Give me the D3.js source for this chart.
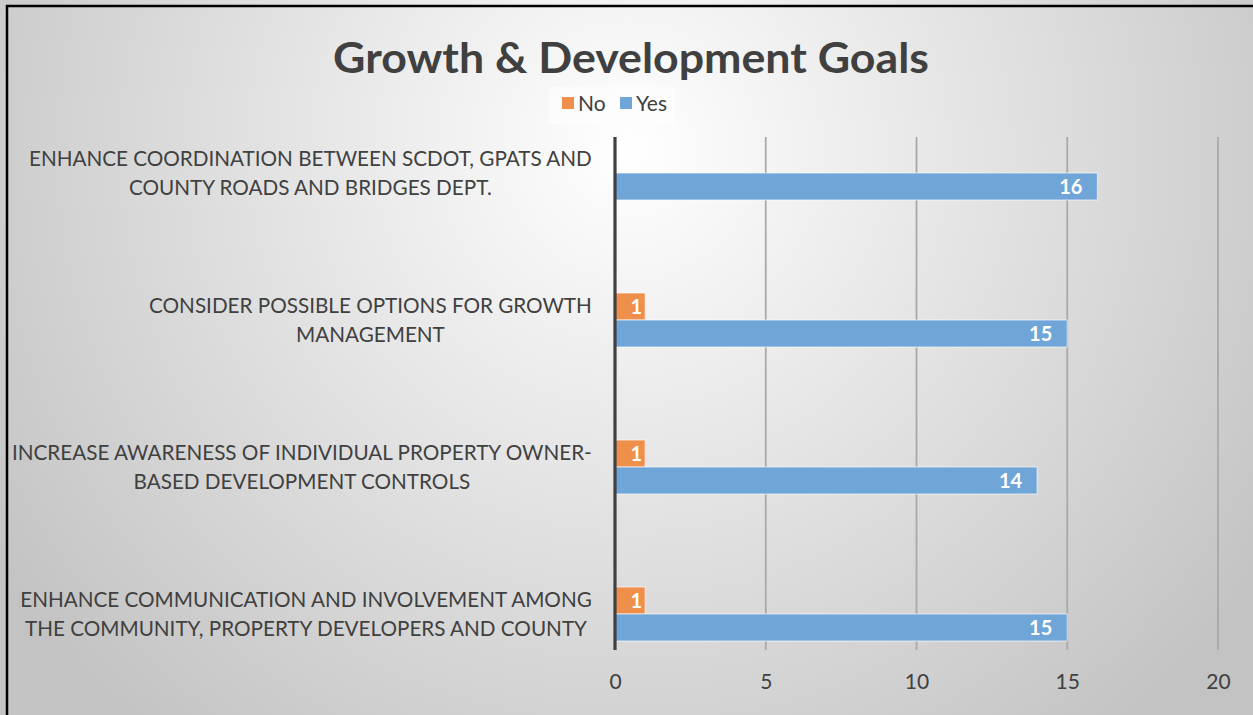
<!DOCTYPE html>
<html><head><meta charset="utf-8">
<script src="https://cdn.jsdelivr.net/npm/d3@7"></script>
<style>html,body{margin:0;padding:0;background:#fff;overflow:hidden}</style>
</head><body>
<svg id="chart" width="1253" height="715"></svg>
<script>
const title = "Growth & Development Goals";
const categories = [
  "ENHANCE COORDINATION BETWEEN SCDOT, GPATS AND|COUNTY ROADS AND BRIDGES DEPT.",
  "CONSIDER POSSIBLE OPTIONS FOR GROWTH|MANAGEMENT",
  "INCREASE AWARENESS OF INDIVIDUAL PROPERTY OWNER-|BASED DEVELOPMENT CONTROLS",
  "ENHANCE COMMUNICATION AND INVOLVEMENT AMONG|THE COMMUNITY, PROPERTY DEVELOPERS AND COUNTY"
];
const seriesNames = ["No", "Yes"];
const noValues = [0, 1, 1, 1];
const yesValues = [16, 15, 14, 15];
const xTicks = [0, 5, 10, 15, 20];
const colors = {No: "#ef8f4c", Yes: "#70a5d8"};

const svg = d3.select("#chart");
const W = 1253, H = 715;
const FONT = "Lato, 'Open Sans', sans-serif";
const textColor = "#404040";

// background
const defs = svg.append("defs");
const rg = defs.append("radialGradient").attr("id","bg").attr("gradientUnits","userSpaceOnUse")
  .attr("cx",630).attr("cy",150).attr("r",760);
rg.append("stop").attr("offset","0").attr("stop-color","#ffffff");
rg.append("stop").attr("offset","1").attr("stop-color","#c3c3c3");
svg.append("rect").attr("width",W).attr("height",H).attr("fill","url(#bg)");
svg.append("rect").attr("x",7).attr("y",6).attr("width",W+20).attr("height",H+20)
  .attr("fill","none").attr("stroke","#000").attr("stroke-width",2.5);

const x = d3.scaleLinear().domain([0, 20]).range([615, 1218]);
const y = d3.scaleBand().domain(categories).range([99.5, 687.5]);
const barH = 27;
const ySub = d3.scaleBand().domain(seriesNames)
  .range([y.bandwidth()/2 - barH, y.bandwidth()/2 + barH]);

const plotTop = 137, plotBottom = 650;

// gridlines
svg.append("g").selectAll("line").data(xTicks.filter(t => t > 0)).join("line")
  .attr("x1", d => x(d)).attr("x2", d => x(d))
  .attr("y1", plotTop).attr("y2", plotBottom)
  .attr("stroke", "#a9a9a9").attr("stroke-width", 1.8);

// x axis tick labels
const xAxis = d3.axisBottom(x).tickValues(xTicks).tickSize(0).tickPadding(0);
const gx = svg.append("g").attr("transform", `translate(0,${plotBottom})`).call(xAxis);
gx.select(".domain").remove();
gx.selectAll("text").attr("dy", null).attr("y", 39)
  .attr("font-family", FONT).attr("font-size", 21).attr("fill", textColor);

// bars
const data = [];
categories.forEach((c, i) => {
  data.push({cat: c, s: "No", v: noValues[i]});
  data.push({cat: c, s: "Yes", v: yesValues[i]});
});
const bars = svg.append("g");
bars.selectAll("rect").data(data.filter(d => d.v > 0)).join("rect")
  .attr("x", x(0))
  .attr("y", d => y(d.cat) + ySub(d.s))
  .attr("width", d => x(d.v) - x(0))
  .attr("height", ySub.bandwidth())
  .attr("fill", d => colors[d.s])
  .attr("stroke", "rgba(255,255,255,0.55)").attr("stroke-width", 1.2);

// data labels
svg.append("g").selectAll("text").data(data.filter(d => d.v > 0)).join("text")
  .attr("x", d => Math.max(x(d.v) - 15, x(0) + 27))
  .attr("y", d => y(d.cat) + ySub(d.s) + ySub.bandwidth()/2)
  .attr("dy", "0.36em")
  .attr("text-anchor", "end")
  .attr("font-family", FONT).attr("font-weight", "bold").attr("font-size", 20)
  .attr("fill", "#ffffff")
  .text(d => d.v);

// axis line
svg.append("line").attr("x1", x(0)).attr("x2", x(0)).attr("y1", plotTop).attr("y2", plotBottom)
  .attr("stroke", "#404040").attr("stroke-width", 3.2);

// category labels (horizontally condensed to mimic Calibri proportions)
const labelRight = 592, lineGap = 29.5, targetW = 572, labelSize = 21.5;
const lg = svg.append("g");
const probe = lg.append("text").attr("font-family", FONT).attr("font-size", labelSize)
  .text("ENHANCE COMMUNICATION AND INVOLVEMENT AMONG");
const sx = targetW / probe.node().getComputedTextLength();
probe.remove();
categories.forEach(c => {
  const lines = c.split("|");
  const g = lg.append("g");
  const texts = lines.map((ln, k) => g.append("text")
    .attr("font-family", FONT).attr("font-size", labelSize).attr("fill", textColor)
    .attr("text-anchor", "middle")
    .attr("dy", "0.35em").text(ln)
    .datum(y(c) + y.bandwidth()/2 + (k - (lines.length-1)/2) * lineGap));
  const bw = d3.max(texts, t => t.node().getComputedTextLength()) * sx;
  texts.forEach(t => t.attr("transform", `translate(${labelRight - bw/2},${t.datum()}) scale(${sx},1)`));
});

// title
const titleSize = 42;
const tt = svg.append("text").attr("dy", "0.35em")
  .attr("text-anchor", "middle").attr("font-family", FONT).attr("font-weight", "bold")
  .attr("font-size", titleSize).attr("fill", textColor).text(title);
const tsx = 596 / tt.node().getComputedTextLength();
tt.attr("transform", `translate(631,58) scale(${tsx},1)`);

// legend
const leg = svg.append("g");
leg.append("rect").attr("x", 549).attr("y", 87).attr("width", 125).attr("height", 37)
  .attr("fill", "rgba(255,255,255,0.45)");
const legItems = [{s: "No", x: 562}, {s: "Yes", x: 620}];
legItems.forEach(it => {
  leg.append("rect").attr("x", it.x).attr("y", 97).attr("width", 12).attr("height", 12)
    .attr("fill", colors[it.s]);
  leg.append("text").attr("x", it.x + 16).attr("y", 104).attr("dy", "0.35em")
    .attr("font-family", FONT).attr("font-size", 21).attr("fill", textColor).text(it.s);
});
</script>
</body></html>
